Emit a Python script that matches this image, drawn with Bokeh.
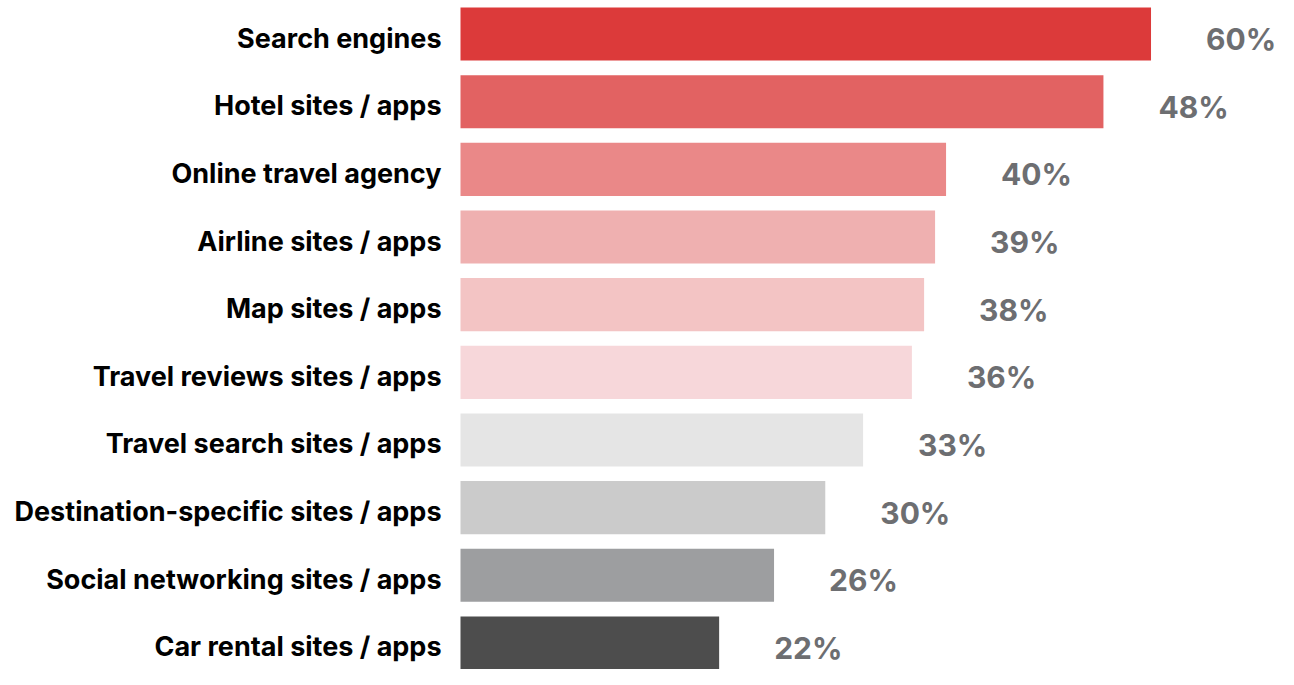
from bokeh.plotting import figure
from bokeh.models import ColumnDataSource, Range1d
from bokeh.core.properties import value
from bokeh.embed import file_html
from bokeh.resources import INLINE

# ---- data (top to bottom) ----
categories = [
    "Search engines",
    "Hotel sites / apps",
    "Online travel agency",
    "Airline sites / apps",
    "Map sites / apps",
    "Travel reviews sites / apps",
    "Travel search sites / apps",
    "Destination-specific sites / apps",
    "Social networking sites / apps",
    "Car rental sites / apps",
]
shares = [60, 48, 40, 39, 38, 36, 33, 30, 26, 22]               # printed values (%)
bar_lengths = [56.6, 52.7, 39.8, 38.9, 38.0, 37.0, 33.0, 29.9, 25.7, 21.2]  # drawn bar lengths
bar_colors = ["#DC3A3A", "#E26262", "#EA8888", "#EFB0B0", "#F3C4C4",
              "#F7D7DA", "#E5E5E5", "#CBCBCB", "#9D9EA0", "#4D4D4D"]

W, H = 1278, 669
PX_PER_UNIT = 12.2
BAR_X0 = 460
x_start = -BAR_X0 / PX_PER_UNIT
x_end = (W - BAR_X0) / PX_PER_UNIT

TOP = 7.0
PITCH = (H - TOP) / (9 + 0.785)
BAR_H = 0.785
half = BAR_H * PITCH / 2
y_top = -(TOP + half) / PITCH
y_bottom = (H - TOP - half) / PITCH

src = ColumnDataSource(dict(
    y=list(range(len(categories))),
    cat=categories,
    length=bar_lengths,
    color=bar_colors,
    label=[f"{v}%" for v in shares],
    zero=[0] * len(categories),
))

p = figure(width=W, height=H, output_backend="svg", toolbar_location=None,
           x_range=Range1d(x_start, x_end),
           y_range=Range1d(y_bottom, y_top),
           min_border=0, outline_line_color=None, background_fill_color="white",
           border_fill_color="white")
p.axis.visible = False
p.grid.visible = False

p.hbar(y="y", left="zero", right="length", height=BAR_H, fill_color="color",
       line_color=None, source=src)

p.text(x="zero", y="y", text="cat", source=src, text_align="right",
       text_baseline="middle", x_offset=-19, y_offset=4,
       text_font=value("Inter"), text_font_style="bold",
       text_font_size="27px", text_color="#000000")

p.text(x="length", y="y", text="label", source=src, text_align="left",
       text_baseline="middle", x_offset=55, y_offset=5,
       text_font=value("Inter"), text_font_style="bold",
       text_font_size="30px", text_color="#6D6E71")

open("out.html", "w").write(file_html(p, INLINE))
